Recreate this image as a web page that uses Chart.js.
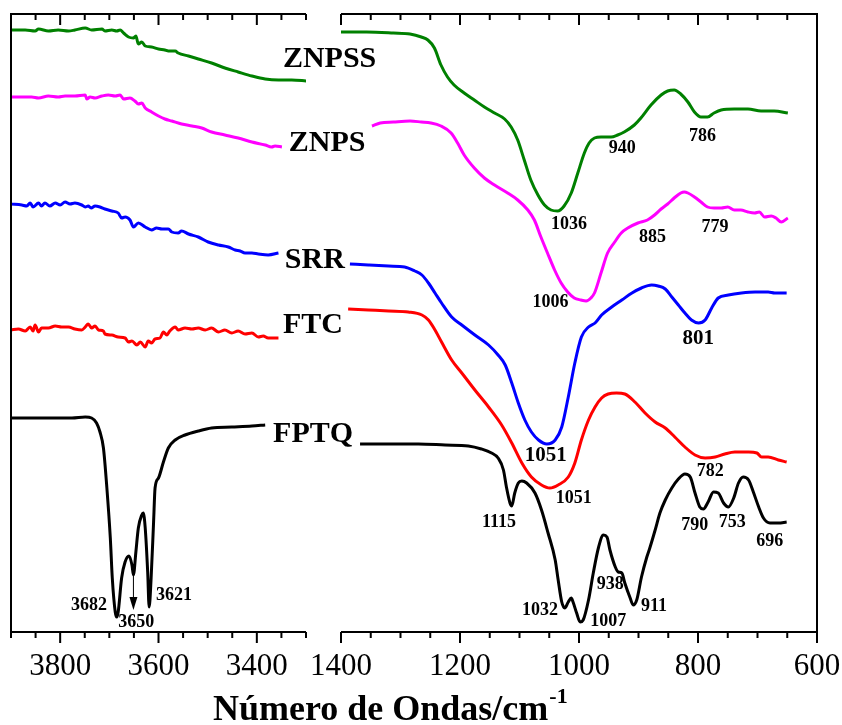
<!DOCTYPE html>
<html>
<head>
<meta charset="utf-8">
<script src="https://cdn.jsdelivr.net/npm/chart.js@4"></script>
<style>
  html, body { margin: 0; padding: 0; background: #fff; }
  #wrap { position: relative; width: 842px; height: 725px; }
  #wrap canvas { position: absolute; left: 0; top: 0; }
</style>
</head>
<body>
<div id="wrap">
  <canvas id="ohChart" width="842" height="725"></canvas>
  <canvas id="fpChart" width="842" height="725"></canvas>
</div>
<script>
// [wavenumber cm-1, transmittance a.u.]
// high wavenumber region (O-H stretch)
const ZNPSS_OH = [[3900,602],[3871,602],[3851,601],[3844,603],[3824,601],[3804,602],[3783,601],[3770,602],[3749,604],[3736,602],[3715,603],[3709,601],[3695,602],[3685,601],[3678,602],[3671,599],[3661,595],[3651,594],[3646,596],[3641,588],[3634,590],[3627,586],[3614,585],[3600,583],[3587,582],[3580,581],[3566,581],[3560,579],[3539,576],[3519,573],[3492,569],[3465,564],[3438,560],[3410,556],[3383,553],[3356,552],[3329,552],[3298,551]];
const ZNPS_OH = [[3900,535],[3878,535],[3858,535],[3844,534],[3824,536],[3804,535],[3790,536],[3770,536],[3749,537],[3746,533],[3739,535],[3729,534],[3715,536],[3702,537],[3688,536],[3678,537],[3671,533],[3658,534],[3648,531],[3641,528],[3634,529],[3627,524],[3614,520],[3600,516],[3587,513],[3573,511],[3553,508],[3532,506],[3512,504],[3492,500],[3465,497],[3438,494],[3410,490],[3383,487],[3370,485],[3363,486],[3349,485]];
const SRR_OH = [[3900,428],[3878,427],[3868,426],[3861,429],[3855,425],[3844,429],[3838,426],[3831,429],[3821,426],[3810,429],[3800,427],[3790,430],[3780,428],[3770,429],[3756,427],[3749,425],[3743,426],[3737,424],[3729,426],[3719,425],[3709,423],[3695,421],[3682,419],[3675,414],[3668,415],[3658,412],[3651,405],[3641,409],[3627,405],[3614,402],[3604,404],[3593,403],[3580,403],[3573,400],[3560,399],[3553,401],[3539,398],[3519,395],[3499,390],[3478,387],[3458,385],[3444,382],[3434,381],[3424,379],[3410,379],[3397,378],[3377,377],[3356,379]];
const FTC_OH = [[3900,302],[3885,303],[3871,301],[3861,305],[3855,301],[3851,307],[3844,300],[3838,304],[3824,304],[3810,306],[3797,305],[3783,305],[3770,303],[3756,302],[3749,305],[3743,308],[3736,304],[3729,306],[3722,302],[3712,301],[3709,298],[3695,297],[3682,295],[3668,294],[3661,290],[3654,291],[3644,287],[3637,290],[3627,285],[3621,291],[3614,289],[3607,293],[3597,294],[3590,300],[3583,297],[3577,301],[3566,305],[3560,302],[3546,304],[3532,303],[3519,304],[3505,302],[3492,304],[3478,300],[3465,302],[3451,299],[3438,301],[3424,298],[3410,299],[3397,295],[3387,296],[3377,294],[3356,294]];
const FPTQ_OH = [[3900,214],[3858,214],[3810,214],[3776,214],[3749,215],[3736,214],[3726,209],[3719,200],[3712,184],[3705,144],[3698,94],[3694,54],[3688,20],[3685,15],[3682,20],[3675,54],[3668,70],[3660,76],[3654,67],[3651,57],[3646,80],[3641,104],[3634,117],[3631,119],[3627,104],[3622,60],[3619,25],[3615,54],[3610,110],[3607,144],[3600,154],[3590,170],[3580,184],[3566,192],[3546,197],[3519,201],[3492,204],[3451,205],[3410,206],[3383,207]];

// fingerprint region
const ZNPSS_FP = [[1400,600],[1357,600],[1312,599],[1284,598],[1265,595],[1254,592],[1243,584],[1232,567],[1221,555],[1210,547],[1193,539],[1176,532],[1159,525],[1142,519],[1125,513],[1114,505],[1103,492],[1092,472],[1081,452],[1069,437],[1058,427],[1047,422],[1036,421],[1025,426],[1013,439],[1002,459],[991,479],[983,489],[974,494],[963,495],[946,495],[935,497],[924,500],[907,507],[896,514],[879,527],[862,537],[851,541],[840,542],[829,538],[817,530],[806,520],[795,515],[784,515],[773,519],[761,522],[739,523],[716,523],[694,521],[672,521],[649,519]];
const ZNPS_FP = [[1348,506],[1334,509],[1312,510],[1284,511],[1265,510],[1249,509],[1232,506],[1215,499],[1204,489],[1193,477],[1176,464],[1159,454],[1142,447],[1120,439],[1103,432],[1086,422],[1075,412],[1064,395],[1053,379],[1041,362],[1030,349],[1019,340],[1008,334],[997,332],[988,331],[980,334],[974,339],[963,359],[952,379],[940,390],[929,399],[918,404],[901,409],[885,412],[873,417],[862,423],[851,428],[840,434],[829,439],[823,440],[817,439],[806,435],[795,430],[784,425],[773,424],[761,424],[750,425],[739,422],[728,422],[716,420],[705,419],[697,420],[688,415],[677,416],[669,414],[660,410],[649,414]];
const SRR_FP = [[1385,368],[1354,367],[1320,366],[1293,365],[1276,361],[1264,357],[1253,349],[1242,339],[1231,329],[1214,315],[1197,307],[1175,297],[1152,287],[1136,277],[1124,267],[1113,249],[1102,229],[1091,212],[1080,200],[1068,192],[1054,188],[1040,192],[1029,205],[1018,235],[1007,269],[996,295],[984,305],[973,309],[962,317],[945,325],[928,332],[911,339],[895,344],[878,347],[867,346],[855,343],[844,335],[833,327],[822,319],[811,312],[799,309],[788,312],[777,324],[766,334],[749,337],[727,339],[704,340],[682,340],[671,339],[651,339]];
const FTC_FP = [[1388,323],[1354,322],[1320,321],[1287,320],[1264,317],[1253,312],[1242,302],[1231,290],[1214,272],[1197,259],[1175,242],[1152,225],[1130,207],[1113,189],[1096,169],[1080,155],[1063,147],[1049,144],[1035,147],[1018,155],[1007,169],[996,192],[984,212],[973,225],[962,234],[951,238],[937,239],[923,238],[906,230],[889,219],[872,210],[855,204],[839,195],[822,185],[805,177],[788,174],[771,175],[755,178],[738,180],[715,180],[701,179],[693,175],[682,175],[665,172],[651,170]];
const FPTQ_FP = [[1368,188],[1326,188],[1270,188],[1225,187],[1186,186],[1164,183],[1147,179],[1136,174],[1127,162],[1122,145],[1116,129],[1113,126],[1108,139],[1102,149],[1096,151],[1088,149],[1074,139],[1063,122],[1052,99],[1040,72],[1035,52],[1029,30],[1024,24],[1018,30],[1013,34],[1010,30],[1004,19],[998,10],[993,12],[984,32],[976,59],[967,85],[959,97],[953,95],[948,82],[939,65],[934,60],[928,59],[923,49],[914,34],[909,27],[903,32],[895,55],[886,75],[881,84],[872,102],[864,119],[855,132],[844,144],[833,153],[822,158],[813,155],[805,139],[797,125],[791,123],[783,130],[774,140],[766,139],[757,129],[749,125],[740,134],[732,149],[724,155],[715,152],[707,140],[698,125],[690,114],[679,109],[665,109],[651,110]];

const sampleNames = ['ZNPSS', 'ZNPS', 'SRR', 'FTC', 'FPTQ'];
const sampleColors = ['#008000', '#ff00ff', '#0000ff', '#ff0000', '#000000'];

// name tags: [text, wavenumber, transmittance]
const nameTags = [['ZNPSS', 3347, 565], ['ZNPS', 3335, 481], ['SRR', 3343, 364], ['FTC', 3347, 299], ['FPTQ', 3367, 190]];
// peak labels: [text, wavenumber, transmittance]
const peaksOH = [['3682', 3778, 22], ['3650', 3682, 5], ['3621', 3605, 32]];
const peaksFP = [['1036', 1047, 403], ['940', 950, 479], ['786', 815, 491], ['1006', 1078, 325], ['885', 899, 390], ['779', 794, 400],
  ['1051', 1039, 129], ['782', 802, 156], ['1115', 1163, 105], ['790', 828, 102], ['753', 765, 105], ['696', 702, 86],
  ['938', 970, 43], ['911', 896, 21], ['1032', 1096, 17], ['1007', 981, 6]];
const peaksFPBig = [['801', 826, 288], ['1051', 1091, 171]];
// arrow for 3650: [wavenumber, from, to]
const arrow3650 = [3651, 56, 22];

const SERIF = '"Liberation Serif", "Times New Roman", serif';

function makeDatasets(seriesList) {
  return seriesList.map((pts, i) => ({
    label: sampleNames[i],
    data: pts.map(p => ({ x: p[0], y: p[1] })),
    borderColor: sampleColors[i],
    borderWidth: 3,
    pointRadius: 0,
    fill: false,
    cubicInterpolationMode: 'monotone'
  }));
}

function xAxis(min, max) {
  return {
    type: 'linear', min, max, reverse: true,
    grid: { display: false, drawTicks: false },
    border: { display: false },
    afterFit: s => { s.height = 93; },
    ticks: {
      // padding 0 so the labels don't eat into the plot width; the tall lineHeight pushes them down
      stepSize: 50, autoSkip: false, maxRotation: 0, padding: 0, color: '#000',
      font: { family: SERIF, size: 31, lineHeight: 2.25 },
      callback: v => (v % 200 === 0 ? String(v) : '')
    }
  };
}

// box lines + tick marks (all ticks point downwards like the original)
const frame = {
  id: 'frame',
  afterDraw(chart, args, opts) {
    const { ctx, chartArea: a } = chart;
    const x = chart.scales.x;
    ctx.save();
    ctx.strokeStyle = '#000';
    ctx.lineWidth = 2;
    ctx.beginPath();
    ctx.moveTo(a.left, a.top); ctx.lineTo(a.right, a.top);
    ctx.moveTo(a.left, a.bottom); ctx.lineTo(a.right, a.bottom);
    if (opts.left) { ctx.moveTo(a.left, a.top - 1); ctx.lineTo(a.left, a.bottom + 1); }
    if (opts.right) { ctx.moveTo(a.right, a.top - 1); ctx.lineTo(a.right, a.bottom + 1); }
    x.ticks.forEach(t => {
      const px = x.getPixelForValue(t.value);
      const len = t.value % 200 === 0 ? 11 : 6;
      ctx.moveTo(px, a.bottom); ctx.lineTo(px, a.bottom + len);
      ctx.moveTo(px, a.top); ctx.lineTo(px, a.top + len);
    });
    ctx.stroke();
    ctx.restore();
  }
};

function drawTexts(chart, list, size) {
  const { ctx } = chart;
  const x = chart.scales.x, y = chart.scales.y;
  ctx.save();
  ctx.fillStyle = '#000';
  ctx.font = 'bold ' + size + 'px ' + SERIF;
  ctx.textAlign = 'left';
  ctx.textBaseline = 'alphabetic';
  list.forEach(l => ctx.fillText(l[0], x.getPixelForValue(l[1]), y.getPixelForValue(l[2])));
  ctx.restore();
}

const ohNotes = {
  id: 'ohNotes',
  afterDraw(chart) {
    drawTexts(chart, nameTags, 30);
    drawTexts(chart, peaksOH, 18);
    const { ctx } = chart;
    const px = chart.scales.x.getPixelForValue(arrow3650[0]);
    const y1 = chart.scales.y.getPixelForValue(arrow3650[1]);
    const y2 = chart.scales.y.getPixelForValue(arrow3650[2]);
    ctx.save();
    ctx.strokeStyle = '#000';
    ctx.fillStyle = '#000';
    ctx.lineWidth = 1;
    ctx.beginPath();
    ctx.moveTo(px, y1); ctx.lineTo(px, y2 - 12);
    ctx.stroke();
    ctx.beginPath();
    ctx.moveTo(px - 4, y2 - 13); ctx.lineTo(px + 4, y2 - 13); ctx.lineTo(px, y2);
    ctx.closePath();
    ctx.fill();
    ctx.restore();
  }
};

const fpNotes = {
  id: 'fpNotes',
  afterDraw(chart) {
    drawTexts(chart, peaksFP, 18);
    drawTexts(chart, peaksFPBig, 21);
    const { ctx } = chart;
    ctx.save();
    ctx.fillStyle = '#000';
    ctx.textBaseline = 'alphabetic';
    ctx.font = 'bold 36px ' + SERIF;
    const main = 'Número de Ondas/cm';
    ctx.fillText(main, 213, 720);
    const w = ctx.measureText(main).width;
    ctx.font = 'bold 22px ' + SERIF;
    ctx.fillText('-1', 213 + w + 1, 703);
    ctx.restore();
  }
};

function makeChart(id, seriesList, min, max, padding, frameOpts, notes) {
  return new Chart(document.getElementById(id), {
    type: 'line',
    data: { datasets: makeDatasets(seriesList) },
    options: {
      responsive: false,
      animation: false,
      devicePixelRatio: 1,
      layout: { padding },
      plugins: { legend: { display: false }, tooltip: { enabled: false }, frame: frameOpts },
      scales: {
        x: xAxis(min, max),
        y: { display: false, min: 0, max: 618 }
      }
    },
    plugins: [frame, notes]
  });
}

makeChart('ohChart', [ZNPSS_OH, ZNPS_OH, SRR_OH, FTC_OH, FPTQ_OH], 3300, 3900,
  { left: 11, right: 536, top: 14, bottom: 0 }, { left: true, right: false }, ohNotes);
makeChart('fpChart', [ZNPSS_FP, ZNPS_FP, SRR_FP, FTC_FP, FPTQ_FP], 600, 1400,
  { left: 341, right: 25, top: 14, bottom: 0 }, { left: false, right: true }, fpNotes);
</script>
</body>
</html>
